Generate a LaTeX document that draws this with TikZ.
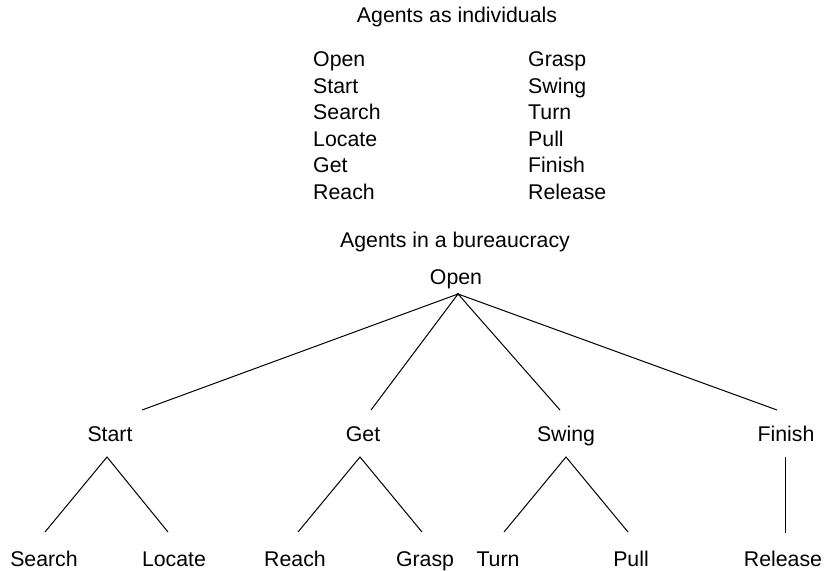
\documentclass[tikz,border=0pt]{standalone}
\usepackage{fontspec}
\setmainfont{Liberation Sans}
\begin{document}
\begin{tikzpicture}[x=1pt,y=-1pt,
  lbl/.style={inner sep=0pt,anchor=base,font=\fontsize{21.3}{26}\selectfont},
  col/.style={lbl,anchor=base west},
  edge/.style={line width=1pt,black}]
\useasboundingbox (0,0) rectangle (826,570);
% titles
\node[lbl] (t1) at (457,22) {Agents as individuals};
\node[lbl] (t2) at (455,247) {Agents in a bureaucracy};
% list columns
\foreach \w [count=\i] in {Open,Start,Search,Locate,Get,Reach}
  \node[col] (l\i) at (313,{66.5+26.5*(\i-1)}) {\w};
\foreach \w [count=\i] in {Grasp,Swing,Turn,Pull,Finish,Release}
  \node[col] (r\i) at (528,{66.5+26.5*(\i-1)}) {\w};
% tree nodes
\node[lbl] (open) at (456,284) {Open};
\node[lbl] (start) at (110,441) {Start};
\node[lbl] (get) at (363,441) {Get};
\node[lbl] (swing) at (566,441) {Swing};
\node[lbl] (finish) at (786,441) {Finish};
\node[lbl] (search) at (44,566) {Search};
\node[lbl] (locate) at (174,566) {Locate};
\node[lbl] (reach) at (295,566) {Reach};
\node[lbl] (grasp) at (425,566) {Grasp};
\node[lbl] (turn) at (498,566) {Turn};
\node[lbl] (pull) at (631,566) {Pull};
\node[lbl] (release) at (783,566) {Release};
% connector end points
\coordinate (openB) at (458,294);
\coordinate (startT) at (142,410);
\coordinate (getT) at (371,410);
\coordinate (swingT) at (560,410);
\coordinate (finishT) at (777,410);
\coordinate (startB) at (107,457);
\coordinate (getB) at (360,457);
\coordinate (swingB) at (566,457);
\coordinate (finishB) at (785,457);
\coordinate (searchT) at (45,532);
\coordinate (locateT) at (168,532);
\coordinate (reachT) at (298,532);
\coordinate (graspT) at (422,532);
\coordinate (turnT) at (504,532);
\coordinate (pullT) at (628,532);
\coordinate (releaseT) at (785,533);
% connectors
\draw[edge] (startT) -- (openB) -- (getT);
\draw[edge] (swingT) -- (openB) -- (finishT);
\draw[edge] (searchT) -- (startB) -- (locateT);
\draw[edge] (reachT) -- (getB) -- (graspT);
\draw[edge] (turnT) -- (swingB) -- (pullT);
\draw[edge] (finishB) -- (releaseT);
\end{tikzpicture}
\end{document}
